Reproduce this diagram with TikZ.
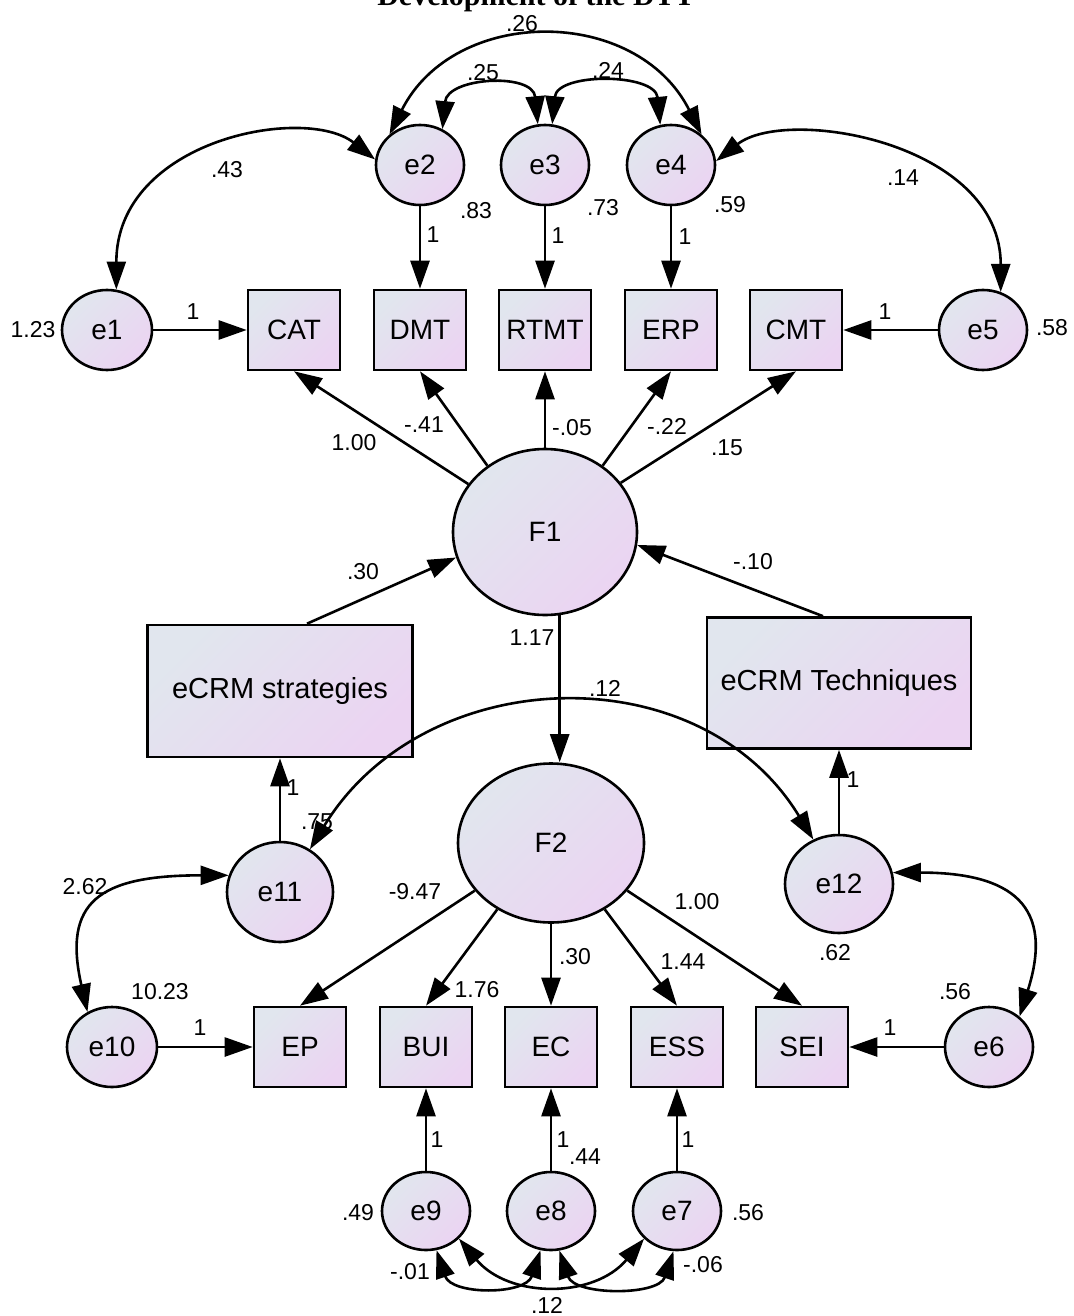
\documentclass[tikz,border=0pt]{standalone}
\usepackage{fontspec}
\setmainfont{Liberation Sans}
\newfontfamily\titlefont{Liberation Serif}
\usetikzlibrary{arrows.meta,shapes.geometric,calc}
\definecolor{cA}{HTML}{E1E6EE}
\definecolor{cB}{HTML}{EBD4F2}
\begin{document}
\begin{tikzpicture}[x=1pt,y=-1pt,
  base/.style={draw=black, line width=2.6pt, top color=cA, bottom color=cB, shading angle=45, font=\fontsize{28}{32}\selectfont, inner sep=0pt},
  obs/.style={base, rectangle, minimum width=92pt, minimum height=80pt},
  err/.style={base, ellipse, minimum width=88pt, minimum height=80pt},
  lbl/.style={font=\fontsize{23}{27}\selectfont, inner sep=0pt},
  arr/.style={line width=2.6pt, -{Triangle[length=28pt,width=19pt]}},
  cov/.style={line width=2.6pt, {Triangle[length=28pt,width=19pt]}-{Triangle[length=28pt,width=19pt]}},
]
\clip (0,0) rectangle (1073,1316);
\fill[white] (0,0) rectangle (1073,1316);

% title (cut off at the top)
\node[font=\titlefont\bfseries\fontsize{30}{34}\selectfont, anchor=base, inner sep=0pt] (title) at (536,6) {Development of the DTT};

% error terms top
\node[err, minimum width=90pt] (e1) at (107,330) {e1};
\node[err] (e2) at (420,165) {e2};
\node[err] (e3) at (545,165) {e3};
\node[err] (e4) at (671,165) {e4};
\node[err] (e5) at (983,330) {e5};

% observed top
\node[obs] (CAT) at (294,330) {CAT};
\node[obs] (DMT) at (420,330) {DMT};
\node[obs] (RTMT) at (545,330) {RTMT};
\node[obs] (ERP) at (671,330) {ERP};
\node[obs] (CMT) at (796,330) {CMT};

% latent
\node[base, ellipse, minimum width=184pt, minimum height=166pt] (F1) at (545,532) {F1};
\node[base, ellipse, minimum width=186pt, minimum height=159pt] (F2) at (551,843) {F2};

% eCRM boxes
\node[obs, minimum width=265pt, minimum height=132pt, font=\fontsize{29}{33}\selectfont] (strat) at (280,691) {eCRM strategies};
\node[obs, minimum width=264pt, minimum height=131pt, font=\fontsize{29}{33}\selectfont] (tech) at (839,683) {eCRM Techniques};

% middle errors
\node[err, minimum width=106pt, minimum height=100pt] (e11) at (280,892) {e11};
\node[err, minimum width=108pt, minimum height=98pt] (e12) at (839,884) {e12};

% bottom row
\node[err, minimum width=90pt] (e10) at (112,1047) {e10};
\node[obs] (EP) at (300,1047) {EP};
\node[obs] (BUI) at (426,1047) {BUI};
\node[obs] (EC) at (551,1047) {EC};
\node[obs] (ESS) at (677,1047) {ESS};
\node[obs] (SEI) at (802,1047) {SEI};
\node[err] (e6) at (989,1047) {e6};

\node[err, minimum height=78pt] (e9) at (426,1211) {e9};
\node[err, minimum height=78pt] (e8) at (551,1211) {e8};
\node[err, minimum height=78pt] (e7) at (677,1211) {e7};

% labels
\node[lbl] (l26) at (522,24) {.26};
\node[lbl] (l25) at (483,73) {.25};
\node[lbl] (l24) at (608,70) {.24};
\node[lbl] (l43) at (227,170) {.43};
\node[lbl] (l83) at (476,211) {.83};
\node[lbl] (l73) at (603,208) {.73};
\node[lbl] (l59) at (730,205) {.59};
\node[lbl] (l14a) at (903,178) {.14};
\node[lbl] (o2) at (433,235) {1};
\node[lbl] (o3) at (558,236) {1};
\node[lbl] (o4) at (685,237) {1};
\node[lbl] (l123) at (33,330) {1.23};
\node[lbl] (o1) at (193,312) {1};
\node[lbl] (o5) at (885,312) {1};
\node[lbl] (l58) at (1052,328) {.58};
\node[lbl] (lcat) at (354,443) {1.00};
\node[lbl] (ldmt) at (424,425) {-.41};
\node[lbl] (lrtmt) at (572,428) {-.05};
\node[lbl] (lerp) at (667,426) {-.22};
\node[lbl] (lcmt) at (727,448) {.15};
\node[lbl] (l30a) at (363,572) {.30};
\node[lbl] (l10) at (753,562) {-.10};
\node[lbl] (l117) at (532,638) {1.17};
\node[lbl] (l12a) at (605,688) {.12};
\node[lbl] (o11) at (293,788) {1};
\node[lbl] (l75) at (317,822) {.75};
\node[lbl] (o12) at (853,780) {1};
\node[lbl] (l262) at (85,887) {2.62};
\node[lbl] (lep) at (415,892) {-9.47};
\node[lbl] (lsei) at (697,902) {1.00};
\node[lbl] (l62) at (835,953) {.62};
\node[lbl] (lec) at (575,957) {.30};
\node[lbl] (less) at (683,962) {1.44};
\node[lbl] (lbui) at (477,990) {1.76};
\node[lbl] (l1023) at (160,992) {10.23};
\node[lbl] (l56a) at (955,992) {.56};
\node[lbl] (o10) at (200,1028) {1};
\node[lbl] (o6) at (890,1028) {1};
\node[lbl] (o9) at (437,1140) {1};
\node[lbl] (o8) at (563,1140) {1};
\node[lbl] (o7) at (688,1140) {1};
\node[lbl] (l44) at (585,1157) {.44};
\node[lbl] (l49) at (358,1213) {.49};
\node[lbl] (l56b) at (748,1213) {.56};
\node[lbl] (l01) at (410,1272) {-.01};
\node[lbl] (l06) at (703,1265) {-.06};
\node[lbl] (l12b) at (547,1305) {.12};

% error -> indicator
\draw[arr] (e1) -- (CAT);
\draw[arr] (e5) -- (CMT);
\draw[arr] (e2) -- (DMT);
\draw[arr] (e3) -- (RTMT);
\draw[arr] (e4) -- (ERP);
\draw[arr] (e10) -- (EP);
\draw[arr] (e6) -- (SEI);
\draw[arr] (e9) -- (BUI);
\draw[arr] (e8) -- (EC);
\draw[arr] (e7) -- (ESS);
\draw[arr] (e11) -- (strat);
\draw[arr] (e12) -- (tech);

% F1 loadings
\draw[arr] (F1.148) -- (CAT.south);
\draw[arr] (F1.131) -- (DMT.south);
\draw[arr] (F1.90) -- (RTMT.south);
\draw[arr] (F1.49) -- (ERP.south);
\draw[arr] (F1.33) -- (CMT.south);

% predictors of F1
\draw[arr] ([xshift=27pt]strat.north) -- (F1.196);
\draw[arr] ([xshift=-16pt]tech.north) -- (F1.-8);

% F1 -> F2
\draw[arr] (F1.-80) -- (F1.-80 |- F2.north);

% F2 loadings
\draw[arr] (F2.212) -- (EP.north);
\draw[arr] (F2.231) -- (BUI.north);
\draw[arr] (F2.south) -- (EC.north);
\draw[arr] (F2.309) -- (ESS.north);
\draw[arr] (F2.-32) -- (SEI.north);

% covariances top
\draw[cov] (e2.135) .. controls +(65,-129) and +(-65,-129) .. (e4.45);
\draw[cov] (e2.58) .. controls +(5,-52) and +(-5,-52) .. (e3.100);
\draw[cov] (e3.80) .. controls +(5,-52) and +(-5,-52) .. (e4.105);
\draw[cov] (e1.77) .. controls +(0,-150) and +(-70,-55) .. (e2.173);
\draw[cov] (e4.5) .. controls +(70,-55) and +(0,-150) .. (e5.65);

% covariances middle
\draw[cov] (e11.55) .. controls +(114,-187) and +(-114,-187) .. (e12.120);
\draw[cov] (e11.162) .. controls +(-130,0) and +(-25,-110) .. (e10.125);
\draw[cov] (e12.12) .. controls +(120,0) and +(35,-110) .. (e6.45);

% covariances bottom
\draw[cov] (e9.-75) .. controls +(15,45) and +(-15,45) .. (e8.-105);
\draw[cov] (e9.-40) .. controls +(50,60) and +(-50,60) .. (e7.-140);
\draw[cov] (e8.-78) .. controls +(15,45) and +(-15,45) .. (e7.-95);
\end{tikzpicture}
\end{document}
